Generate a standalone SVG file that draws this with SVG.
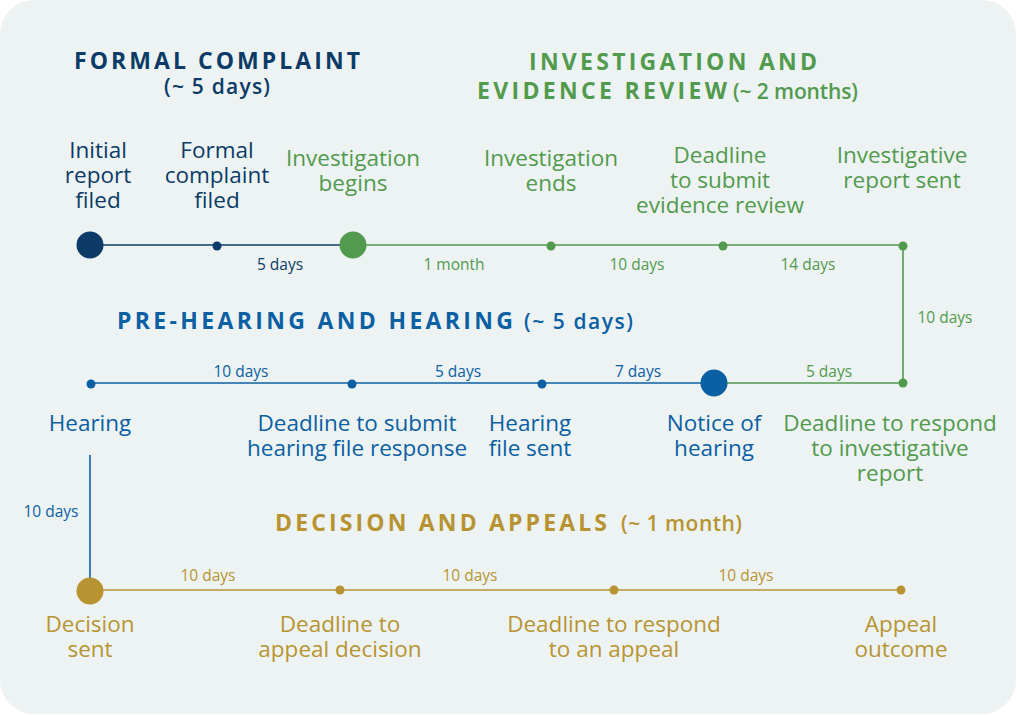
<svg xmlns="http://www.w3.org/2000/svg" width="1017" height="715" viewBox="0 0 1017 715">
<style>
text{font-family:"Open Sans","Noto Sans","Liberation Sans",sans-serif;text-anchor:middle}
.t{font-weight:700;font-size:23px;text-anchor:start}
.p{font-weight:600;font-size:21px;text-anchor:start}
.l{font-size:22.5px}
.d{font-size:15.5px}
.navy{fill:#0b3b66}.green{fill:#529a4e}.blue{fill:#0b5fa3}.gold{fill:#b89332}
.sn{stroke:#0b3b66}.sg{stroke:#529a4e}.sb{stroke:#0b5fa3}.sd{stroke:#b89332}
line{stroke-width:1.6;fill:none}
</style>
<rect x="0" y="0" width="1017" height="715" fill="#ffffff"/>
<rect x="0" y="0" width="1016" height="714" rx="34" fill="#edf3f3"/>

<g id="titles">
<text class="t navy" x="74" y="69" textLength="286" lengthAdjust="spacing">FORMAL COMPLAINT</text>
<text class="p navy" x="164" y="94" textLength="106" lengthAdjust="spacing">(~ 5 days)</text>
<text class="t green" x="529" y="70" textLength="288" lengthAdjust="spacing">INVESTIGATION AND</text>
<text class="t green" x="477" y="99" textLength="250" lengthAdjust="spacing">EVIDENCE REVIEW</text>
<text class="p green" x="733" y="99" textLength="125" lengthAdjust="spacing">(~ 2 months)</text>
<text class="t blue" x="117" y="329" textLength="396" lengthAdjust="spacing">PRE-HEARING AND HEARING</text>
<text class="p blue" x="524" y="329" textLength="109" lengthAdjust="spacing">(~ 5 days)</text>
<text class="t gold" x="275" y="531" textLength="332" lengthAdjust="spacing">DECISION AND APPEALS</text>
<text class="p gold" x="621" y="531" textLength="121" lengthAdjust="spacing">(~ 1 month)</text>
</g>

<g id="connectors">
<line class="sn" x1="90" y1="245" x2="353" y2="245"/>
<line class="sg" x1="353" y1="245" x2="903" y2="245"/>
<line class="sg" x1="903" y1="245" x2="903" y2="383"/>
<line class="sg" x1="714" y1="383" x2="903" y2="383"/>
<line class="sb" x1="91" y1="383" x2="714" y2="383"/>
<line class="sb" x1="90" y1="455" x2="90" y2="590"/>
<line class="sd" x1="90" y1="590" x2="900" y2="590"/>
<text class="d navy" x="280" y="270">5 days</text>
<text class="d green" x="454" y="270">1 month</text>
<text class="d green" x="637" y="270">10 days</text>
<text class="d green" x="808" y="270">14 days</text>
<text class="d green" x="945" y="323">10 days</text>
<text class="d blue" x="241" y="377">10 days</text>
<text class="d blue" x="458" y="377">5 days</text>
<text class="d blue" x="638" y="377">7 days</text>
<text class="d green" x="829" y="377">5 days</text>
<text class="d blue" x="51" y="517">10 days</text>
<text class="d gold" x="208" y="581">10 days</text>
<text class="d gold" x="470" y="581">10 days</text>
<text class="d gold" x="746" y="581">10 days</text>
</g>

<g id="n-initial"><circle cx="90" cy="245" r="13.5" class="navy"/>
<text class="l navy" x="98" y="158">Initial</text><text class="l navy" x="98" y="183">report</text><text class="l navy" x="98" y="208">filed</text></g>
<g id="n-formal"><circle cx="217" cy="246" r="4.5" class="navy"/>
<text class="l navy" x="217" y="158">Formal</text><text class="l navy" x="217" y="183">complaint</text><text class="l navy" x="217" y="208">filed</text></g>
<g id="n-invbegin"><circle cx="353" cy="245" r="13.5" class="green"/>
<text class="l green" x="353" y="166">Investigation</text><text class="l green" x="353" y="191">begins</text></g>
<g id="n-invend"><circle cx="551" cy="246" r="4.5" class="green"/>
<text class="l green" x="551" y="166">Investigation</text><text class="l green" x="551" y="191">ends</text></g>
<g id="n-evidence"><circle cx="723" cy="246" r="4.5" class="green"/>
<text class="l green" x="720" y="163">Deadline</text><text class="l green" x="720" y="188">to submit</text><text class="l green" x="720" y="213">evidence review</text></g>
<g id="n-report"><circle cx="903" cy="246" r="4.5" class="green"/>
<text class="l green" x="902" y="163">Investigative</text><text class="l green" x="902" y="188">report sent</text></g>

<g id="n-respond"><circle cx="903" cy="383" r="4.5" class="green"/>
<text class="l green" x="890" y="431">Deadline to respond</text><text class="l green" x="890" y="456">to investigative</text><text class="l green" x="890" y="481">report</text></g>
<g id="n-notice"><circle cx="714" cy="383" r="13.5" class="blue"/>
<text class="l blue" x="714" y="431">Notice of</text><text class="l blue" x="714" y="456">hearing</text></g>
<g id="n-filesent"><circle cx="542" cy="384" r="4.5" class="blue"/>
<text class="l blue" x="530" y="431">Hearing</text><text class="l blue" x="530" y="456">file sent</text></g>
<g id="n-fileresp"><circle cx="352" cy="384" r="4.5" class="blue"/>
<text class="l blue" x="357" y="431">Deadline to submit</text><text class="l blue" x="357" y="456">hearing file response</text></g>
<g id="n-hearing"><circle cx="91" cy="384" r="4.5" class="blue"/>
<text class="l blue" x="90" y="431">Hearing</text></g>

<g id="n-decision"><circle cx="90" cy="591" r="13.5" class="gold"/>
<text class="l gold" x="90" y="632">Decision</text><text class="l gold" x="90" y="657">sent</text></g>
<g id="n-appealdl"><circle cx="340" cy="590" r="4.5" class="gold"/>
<text class="l gold" x="340" y="632">Deadline to</text><text class="l gold" x="340" y="657">appeal decision</text></g>
<g id="n-appealresp"><circle cx="614" cy="590" r="4.5" class="gold"/>
<text class="l gold" x="614" y="632">Deadline to respond</text><text class="l gold" x="614" y="657">to an appeal</text></g>
<g id="n-outcome"><circle cx="901" cy="590" r="4.5" class="gold"/>
<text class="l gold" x="901" y="632">Appeal</text><text class="l gold" x="901" y="657">outcome</text></g>
</svg>
